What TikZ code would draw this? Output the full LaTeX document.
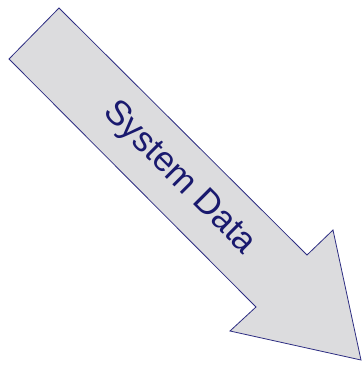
\documentclass[tikz,border=0pt]{standalone}
\usepackage{fontspec}
\setmainfont{Liberation Sans}
\usepackage{tikz}
\definecolor{arrowgray}{RGB}{220, 220, 222}
\definecolor{arrowline}{RGB}{45, 45, 130}
\definecolor{arrowtext}{RGB}{25, 25, 110}

\begin{document}
\begin{tikzpicture}[x=1pt, y=-1pt]
			\useasboundingbox (0, 0) rectangle (362, 365);

			% Big block arrow, tail top-left, head bottom-right
			\coordinate (tailtop) at (59, 8);
			\coordinate (tailleft) at (9, 59);
			\coordinate (notchup) at (307, 255);
			\coordinate (barbup) at (333, 230);
			\coordinate (tip) at (361, 360);
			\coordinate (barblow) at (230, 331);
			\coordinate (notchlow) at (256, 307);

			\filldraw[fill=arrowgray, draw=arrowline, line width=0.8pt, line join=miter]
				(tailtop) -- (notchup) -- (barbup) -- (tip) -- (barblow) -- (notchlow) -- (tailleft) -- cycle;

			% Label along the shaft
			\node[rotate=-45, text=arrowtext, font=\fontsize{35}{42}\selectfont] (label) at (179, 178) {System Data};

		\end{tikzpicture}
\end{document}
